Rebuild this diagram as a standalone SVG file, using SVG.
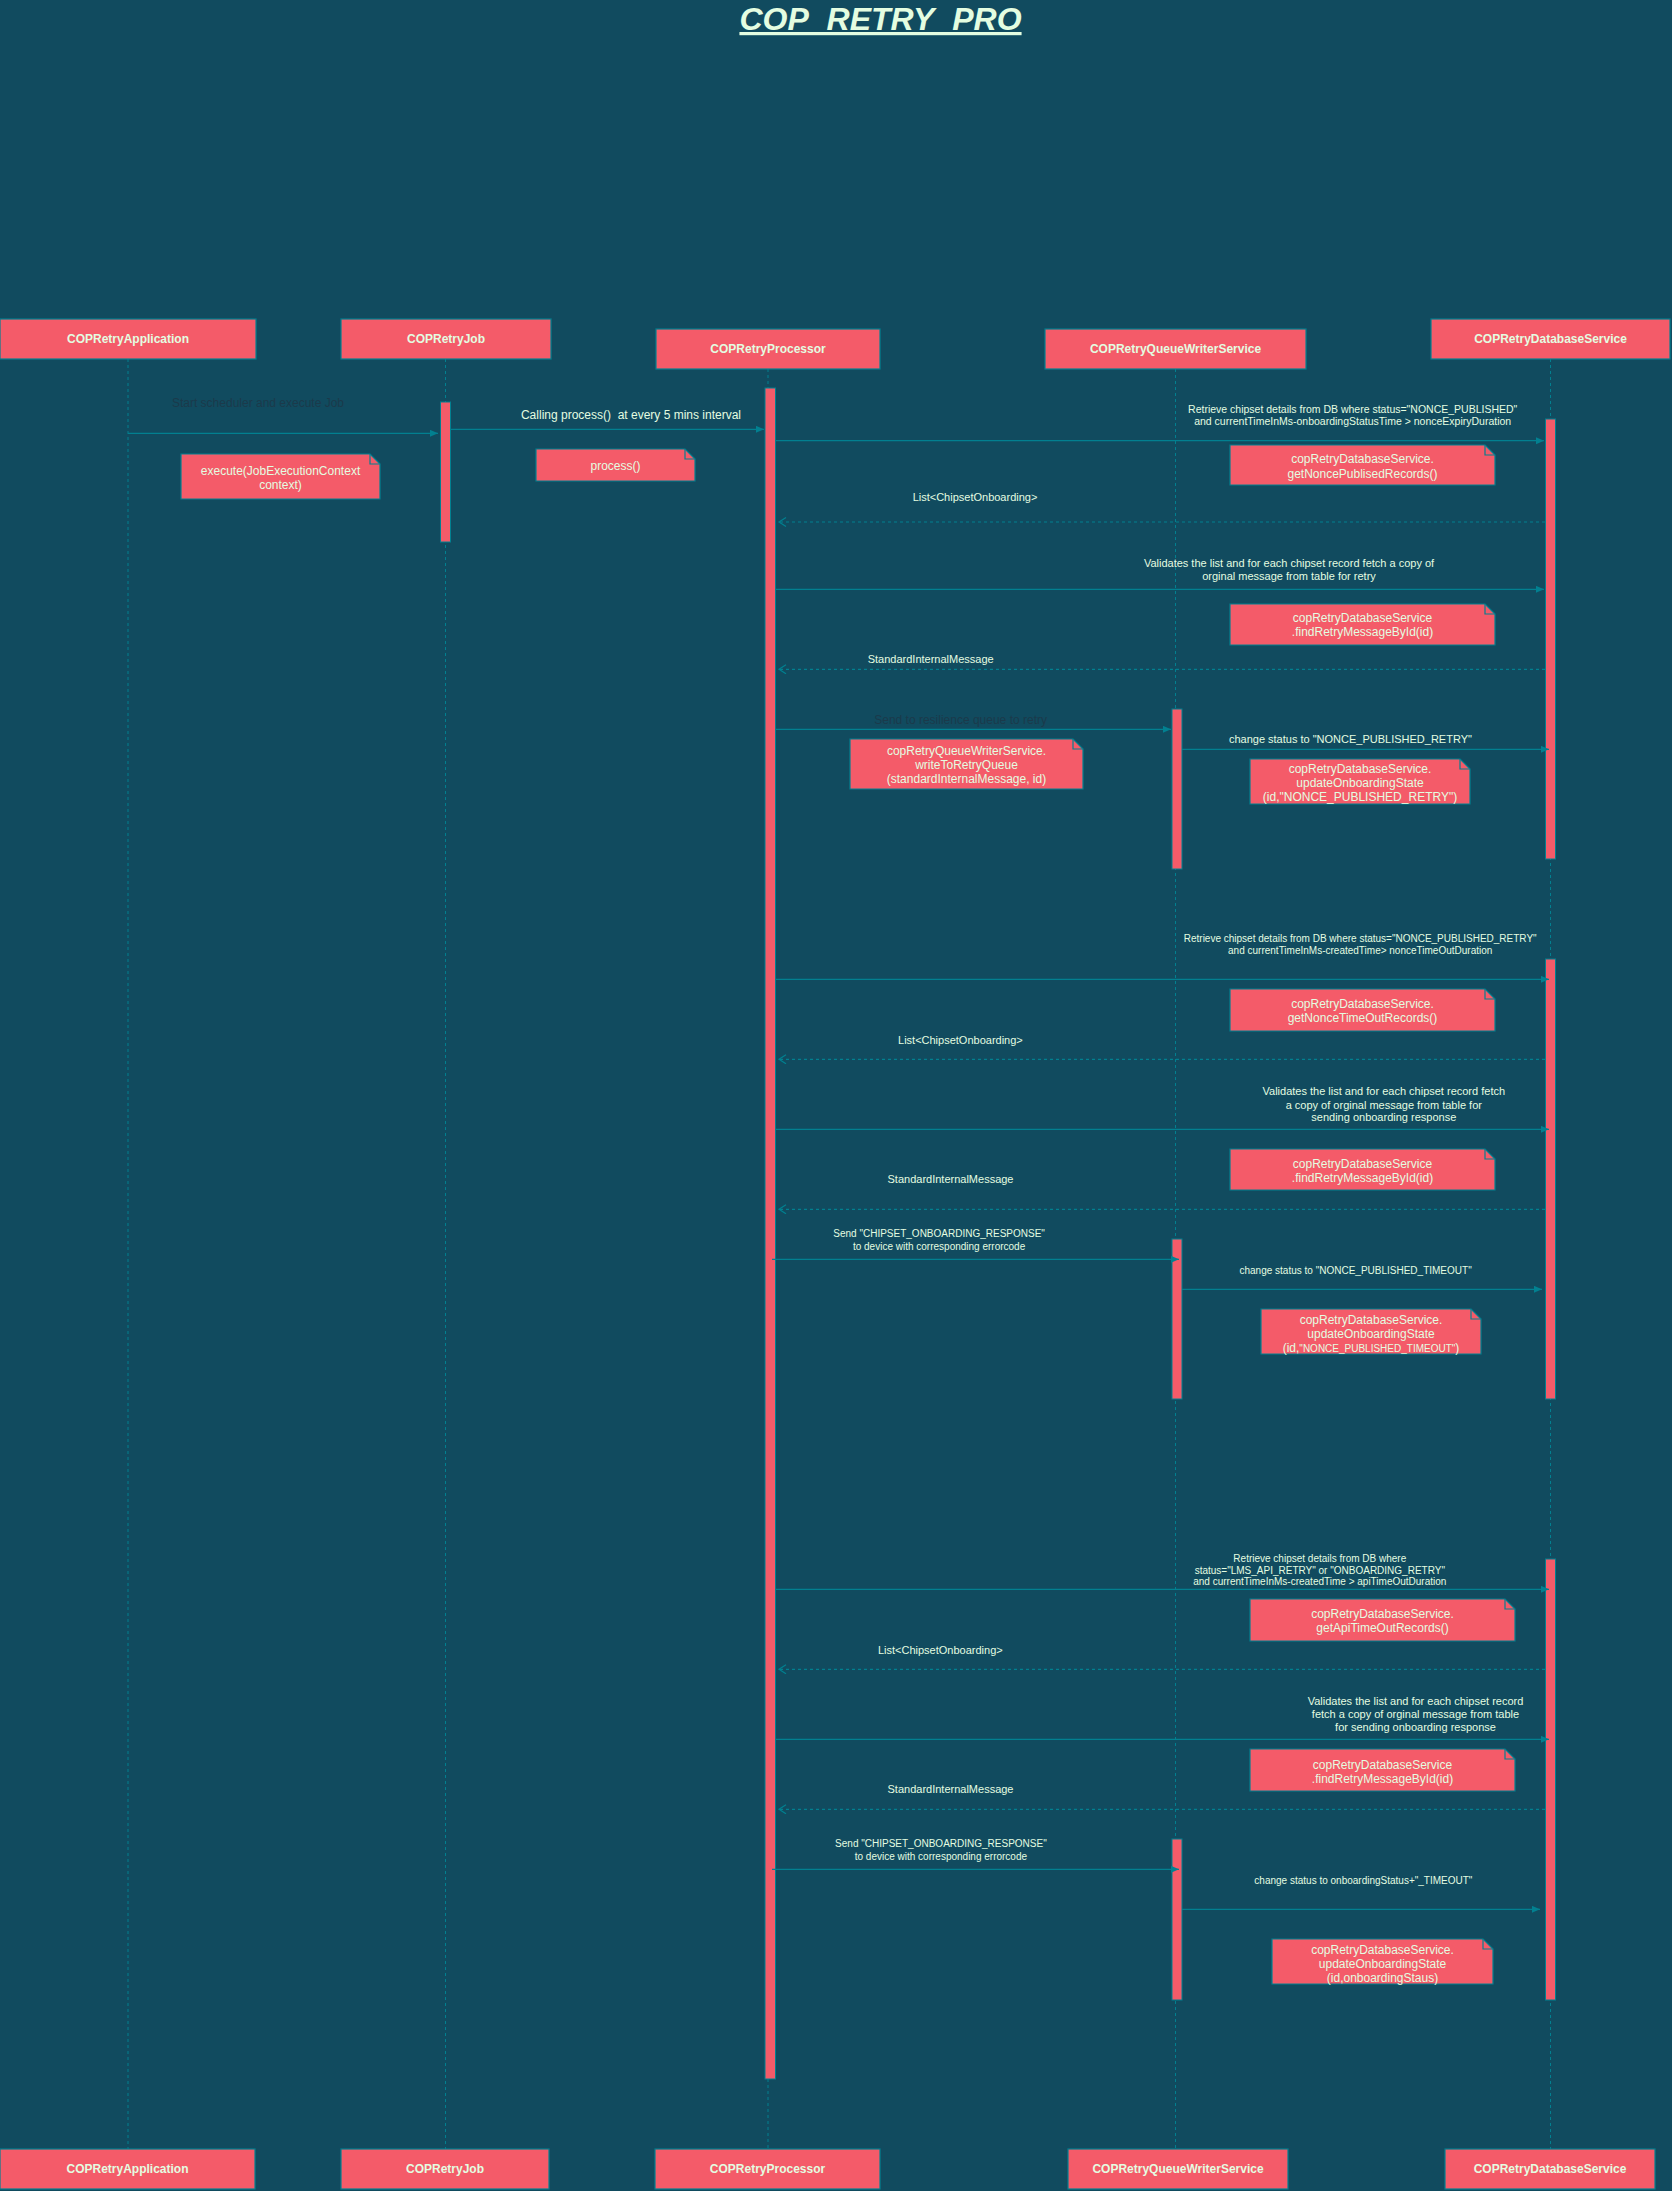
<svg xmlns="http://www.w3.org/2000/svg" width="1672" height="2191" viewBox="0 0 1672 2191">
<style>
.hdr{fill:#F45B69;stroke:#028090;stroke-width:1.2}
.ht{font-family:"Liberation Sans",Arial,sans-serif;font-size:12px;font-weight:bold;fill:#E4FDE1;text-anchor:middle}
.life{stroke:#028090;stroke-width:1;stroke-dasharray:3 3;fill:none}
.bar{fill:#F45B69;stroke:#028090;stroke-width:1}
.note{fill:#F45B69;stroke:#028090;stroke-width:1.2}
.fold{fill:none;stroke:#028090;stroke-width:1.2}
.nt{font-family:"Liberation Sans",Arial,sans-serif;font-size:12px;fill:#E4FDE1;text-anchor:middle}
.msg{stroke:#028090;stroke-width:1.2;fill:none;marker-end:url(#block)}
.ret{stroke:#028090;stroke-width:1.2;fill:none;stroke-dasharray:3 3;marker-end:url(#open)}
.lb{font-family:"Liberation Sans",Arial,sans-serif;fill:#E4FDE1;text-anchor:middle}
.dk{fill:#1B3A4B}
</style>
<defs>
<marker id="block" markerUnits="userSpaceOnUse" markerWidth="9" markerHeight="8" refX="8" refY="3.5" orient="auto">
<path d="M0,0 L8,3.5 L0,7 z" fill="#028090"/>
</marker>
<marker id="open" markerUnits="userSpaceOnUse" markerWidth="10" markerHeight="11" refX="8" refY="5" orient="auto">
<path d="M1,0.5 L8,5 L1,9.5" fill="none" stroke="#028090" stroke-width="1.2"/>
</marker>
</defs>
<rect x="0" y="0" width="1672" height="2191" fill="#114B5F"/>
<text x="880.5" y="30" font-family="'Liberation Sans',Arial,sans-serif" font-size="32" font-weight="bold" font-style="italic" fill="#E4FDE1" text-anchor="middle" text-decoration="underline">COP_RETRY_PRO</text>

<g id="lifelines">
<line class="life" x1="128" y1="359" x2="128" y2="2149"/>
<line class="life" x1="445.5" y1="359" x2="445.5" y2="2149"/>
<line class="life" x1="768" y1="369" x2="768" y2="2149"/>
<line class="life" x1="1175.5" y1="369" x2="1175.5" y2="2149"/>
<line class="life" x1="1550.5" y1="359" x2="1550.5" y2="2149"/>
</g>

<g id="COPRetryApplication">
<rect class="hdr" x="0" y="319" width="256" height="40"/>
<text class="ht" x="128" y="343.3">COPRetryApplication</text>
<rect class="hdr" x="0" y="2149" width="255" height="40"/>
<text class="ht" x="127.5" y="2173.3">COPRetryApplication</text>
</g>
<g id="COPRetryJob">
<rect class="hdr" x="341" y="319" width="210" height="40"/>
<text class="ht" x="446" y="343.3">COPRetryJob</text>
<rect class="hdr" x="341" y="2149" width="208" height="40"/>
<text class="ht" x="445" y="2173.3">COPRetryJob</text>
<rect class="bar" x="440.5" y="402" width="10" height="140"/>
</g>
<g id="COPRetryProcessor">
<rect class="hdr" x="656" y="329" width="224" height="40"/>
<text class="ht" x="768" y="353.3">COPRetryProcessor</text>
<rect class="hdr" x="655" y="2149" width="225" height="40"/>
<text class="ht" x="767.5" y="2173.3">COPRetryProcessor</text>
<rect class="bar" x="765" y="388" width="10.5" height="1691"/>
</g>
<g id="COPRetryQueueWriterService">
<rect class="hdr" x="1045" y="329" width="261" height="40"/>
<text class="ht" x="1175.5" y="353.3">COPRetryQueueWriterService</text>
<rect class="hdr" x="1068" y="2149" width="220" height="40"/>
<text class="ht" x="1178" y="2173.3">COPRetryQueueWriterService</text>
<rect class="bar" x="1172" y="709" width="10" height="160"/>
<rect class="bar" x="1172" y="1239" width="10" height="160"/>
<rect class="bar" x="1172" y="1839" width="10" height="161"/>
</g>
<g id="COPRetryDatabaseService">
<rect class="hdr" x="1431" y="319" width="239" height="40"/>
<text class="ht" x="1550.5" y="343.3">COPRetryDatabaseService</text>
<rect class="hdr" x="1445" y="2149" width="210" height="40"/>
<text class="ht" x="1550" y="2173.3">COPRetryDatabaseService</text>
<rect class="bar" x="1545.5" y="419" width="10" height="440"/>
<rect class="bar" x="1545.5" y="959" width="10" height="440"/>
<rect class="bar" x="1545.5" y="1559" width="10" height="441"/>
</g>

<g id="connectors">
<line class="msg" x1="128" y1="433.3" x2="438" y2="433.3"/>
<line class="msg" x1="451" y1="429.3" x2="764" y2="429.3"/>
<line class="msg" x1="776" y1="440.7" x2="1544" y2="440.7"/>
<line class="ret" x1="1545" y1="522" x2="779" y2="522"/>
<line class="msg" x1="776" y1="589.3" x2="1544" y2="589.3"/>
<line class="ret" x1="1545" y1="669.3" x2="779" y2="669.3"/>
<line class="msg" x1="776" y1="729.3" x2="1171" y2="729.3"/>
<line class="msg" x1="1182" y1="749.3" x2="1549" y2="749.3"/>
<line class="msg" x1="776" y1="979.3" x2="1549" y2="979.3"/>
<line class="ret" x1="1545" y1="1059.3" x2="779" y2="1059.3"/>
<line class="msg" x1="776" y1="1129.3" x2="1549" y2="1129.3"/>
<line class="ret" x1="1545" y1="1209.3" x2="779" y2="1209.3"/>
<line class="msg" x1="772" y1="1259.3" x2="1179" y2="1259.3"/>
<line class="msg" x1="1182" y1="1289.3" x2="1542" y2="1289.3"/>
<line class="msg" x1="776" y1="1589.3" x2="1549" y2="1589.3"/>
<line class="ret" x1="1545" y1="1669.3" x2="779" y2="1669.3"/>
<line class="msg" x1="776" y1="1739.3" x2="1549" y2="1739.3"/>
<line class="ret" x1="1545" y1="1809.3" x2="779" y2="1809.3"/>
<line class="msg" x1="772" y1="1869.3" x2="1179" y2="1869.3"/>
<line class="msg" x1="1182" y1="1909.3" x2="1540" y2="1909.3"/>

<text class="lb dk" font-size="12" x="258" y="407">Start scheduler and execute Job</text>
<text class="lb" font-size="12" x="631" y="419.3">Calling process()&#160; at every 5 mins interval</text>
<text class="lb" font-size="10.5" x="1352.7" y="412.7">Retrieve chipset details from DB where status="NONCE_PUBLISHED"</text>
<text class="lb" font-size="10.5" x="1352.7" y="425">and currentTimeInMs-onboardingStatusTime &gt; nonceExpiryDuration</text>
<text class="lb" font-size="11" x="975" y="500.6">List&lt;ChipsetOnboarding&gt;</text>
<text class="lb" font-size="11" x="1289" y="567.2">Validates the list and for each chipset record fetch a copy of</text>
<text class="lb" font-size="11" x="1289" y="579.9">orginal message from table for retry</text>
<text class="lb" font-size="11" x="930.7" y="663.2">StandardInternalMessage</text>
<text class="lb dk" font-size="12" x="960.6" y="724.3">Send to resilience queue to retry</text>
<text class="lb" font-size="11" x="1350.4" y="743.2">change status to "NONCE_PUBLISHED_RETRY"</text>
<text class="lb" font-size="10" x="1360.2" y="942.2">Retrieve chipset details from DB where status="NONCE_PUBLISHED_RETRY"</text>
<text class="lb" font-size="10" x="1360.2" y="954.2">and currentTimeInMs-createdTime&gt; nonceTimeOutDuration</text>
<text class="lb" font-size="11" x="960.4" y="1044.2">List&lt;ChipsetOnboarding&gt;</text>
<text class="lb" font-size="11" x="1383.8" y="1095.2">Validates the list and for each chipset record fetch</text>
<text class="lb" font-size="11" x="1383.8" y="1108.6">a copy of orginal message from table for</text>
<text class="lb" font-size="11" x="1383.8" y="1121.2">sending onboarding response</text>
<text class="lb" font-size="11" x="950.5" y="1182.9">StandardInternalMessage</text>
<text class="lb" font-size="10" x="939.1" y="1236.8">Send "CHIPSET_ONBOARDING_RESPONSE"</text>
<text class="lb" font-size="10" x="939.1" y="1249.5">to device with corresponding errorcode</text>
<text class="lb" font-size="10" x="1355.6" y="1273.5">change status to "NONCE_PUBLISHED_TIMEOUT"</text>
<text class="lb" font-size="10" x="1319.8" y="1561.5">Retrieve chipset details from DB where</text>
<text class="lb" font-size="10" x="1319.8" y="1573.5">status="LMS_API_RETRY" or "ONBOARDING_RETRY"</text>
<text class="lb" font-size="10" x="1319.8" y="1585.2">and currentTimeInMs-createdTime &gt; apiTimeOutDuration</text>
<text class="lb" font-size="11" x="940.3" y="1653.6">List&lt;ChipsetOnboarding&gt;</text>
<text class="lb" font-size="11" x="1415.5" y="1705.2">Validates the list and for each chipset record</text>
<text class="lb" font-size="11" x="1415.5" y="1718.2">fetch a copy of orginal message from table</text>
<text class="lb" font-size="11" x="1415.5" y="1731.2">for sending onboarding response</text>
<text class="lb" font-size="11" x="950.5" y="1793.2">StandardInternalMessage</text>
<text class="lb" font-size="10" x="940.9" y="1846.8">Send "CHIPSET_ONBOARDING_RESPONSE"</text>
<text class="lb" font-size="10" x="940.9" y="1860.2">to device with corresponding errorcode</text>
<text class="lb" font-size="10" x="1363.4" y="1883.5">change status to onboardingStatus+"_TIMEOUT"</text>
</g>

<g id="note-execute">
<path class="note" d="M181,454 H370 L380,464 V499 H181 Z"/>
<path class="fold" d="M370,454 V464 H380"/>
<text class="nt" x="280.5" y="475.3">execute(JobExecutionContext</text>
<text class="nt" x="280.5" y="488.6">context)</text>
</g>
<g id="note-process">
<path class="note" d="M536,449 H685 L695,459 V481 H536 Z"/>
<path class="fold" d="M685,449 V459 H695"/>
<text class="nt" x="615.5" y="470.3">process()</text>
</g>
<g id="note-getNoncePublisedRecords">
<path class="note" d="M1230,445 H1485 L1495,455 V485 H1230 Z"/>
<path class="fold" d="M1485,445 V455 H1495"/>
<text class="nt" x="1362.5" y="463.3">copRetryDatabaseService.</text>
<text class="nt" x="1362.5" y="477.6">getNoncePublisedRecords()</text>
</g>
<g id="note-findRetryMessageById-1">
<path class="note" d="M1230,604 H1485 L1495,614 V645 H1230 Z"/>
<path class="fold" d="M1485,604 V614 H1495"/>
<text class="nt" x="1362.5" y="622.3">copRetryDatabaseService</text>
<text class="nt" x="1362.5" y="636.3">.findRetryMessageById(id)</text>
</g>
<g id="note-writeToRetryQueue">
<path class="note" d="M850,739 H1073 L1083,749 V789 H850 Z"/>
<path class="fold" d="M1073,739 V749 H1083"/>
<text class="nt" x="966.5" y="755">copRetryQueueWriterService.</text>
<text class="nt" x="966.5" y="769">writeToRetryQueue</text>
<text class="nt" x="966.5" y="783">(standardInternalMessage, id)</text>
</g>
<g id="note-updateOnboardingState-retry">
<path class="note" d="M1250,759 H1460 L1470,769 V804 H1250 Z"/>
<path class="fold" d="M1460,759 V769 H1470"/>
<text class="nt" x="1360" y="773">copRetryDatabaseService.</text>
<text class="nt" x="1360" y="787">updateOnboardingState</text>
<text class="nt" x="1360" y="801">(id,"NONCE_PUBLISHED_RETRY")</text>
</g>
<g id="note-getNonceTimeOutRecords">
<path class="note" d="M1230,989 H1485 L1495,999 V1031 H1230 Z"/>
<path class="fold" d="M1485,989 V999 H1495"/>
<text class="nt" x="1362.5" y="1008.3">copRetryDatabaseService.</text>
<text class="nt" x="1362.5" y="1022.3">getNonceTimeOutRecords()</text>
</g>
<g id="note-findRetryMessageById-2">
<path class="note" d="M1230,1149 H1485 L1495,1159 V1190 H1230 Z"/>
<path class="fold" d="M1485,1149 V1159 H1495"/>
<text class="nt" x="1362.5" y="1168">copRetryDatabaseService</text>
<text class="nt" x="1362.5" y="1182">.findRetryMessageById(id)</text>
</g>
<g id="note-updateOnboardingState-timeout">
<path class="note" d="M1261,1309 H1471 L1481,1319 V1354 H1261 Z"/>
<path class="fold" d="M1471,1309 V1319 H1481"/>
<text class="nt" x="1371" y="1323.6">copRetryDatabaseService.</text>
<text class="nt" x="1371" y="1337.6">updateOnboardingState</text>
<text class="nt" x="1371" y="1351.6">(id,<tspan font-size="10">"NONCE_PUBLISHED_TIMEOUT"</tspan>)</text>
</g>
<g id="note-getApiTimeOutRecords">
<path class="note" d="M1250,1599 H1505 L1515,1609 V1641 H1250 Z"/>
<path class="fold" d="M1505,1599 V1609 H1515"/>
<text class="nt" x="1382.5" y="1618">copRetryDatabaseService.</text>
<text class="nt" x="1382.5" y="1632.3">getApiTimeOutRecords()</text>
</g>
<g id="note-findRetryMessageById-3">
<path class="note" d="M1250,1749 H1505 L1515,1759 V1791 H1250 Z"/>
<path class="fold" d="M1505,1749 V1759 H1515"/>
<text class="nt" x="1382.5" y="1769">copRetryDatabaseService</text>
<text class="nt" x="1382.5" y="1783">.findRetryMessageById(id)</text>
</g>
<g id="note-updateOnboardingState-status">
<path class="note" d="M1272,1939 H1483 L1493,1949 V1984 H1272 Z"/>
<path class="fold" d="M1483,1939 V1949 H1493"/>
<text class="nt" x="1382.5" y="1953.6">copRetryDatabaseService.</text>
<text class="nt" x="1382.5" y="1967.6">updateOnboardingState</text>
<text class="nt" x="1382.5" y="1981.6">(id,onboardingStaus)</text>
</g>
</svg>
